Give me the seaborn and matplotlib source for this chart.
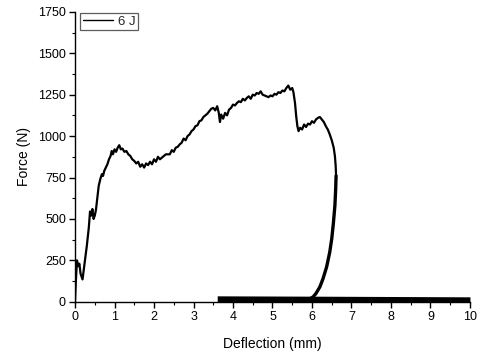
import matplotlib
matplotlib.use("Agg")
import matplotlib.pyplot as plt
from matplotlib.ticker import MultipleLocator
import seaborn as sns
import pandas as pd

# Loading branch (deflection mm, force N)
load_x = [0.00, 0.02, 0.05, 0.08, 0.11, 0.14, 0.19, 0.24, 0.30, 0.35, 0.38, 0.41, 0.44, 0.47, 0.50,
          0.53, 0.57, 0.60, 0.64, 0.68, 0.71, 0.74, 0.78, 0.82, 0.86, 0.90, 0.93, 0.96, 1.00, 1.04,
          1.08, 1.12, 1.16, 1.20, 1.25, 1.30, 1.35, 1.40, 1.45, 1.50, 1.55, 1.60, 1.65, 1.70, 1.75,
          1.80, 1.85, 1.90, 1.95, 2.00, 2.05, 2.10, 2.15, 2.20, 2.25, 2.30, 2.40, 2.45, 2.50, 2.55,
          2.60, 2.65, 2.70, 2.75, 2.80, 2.85, 2.90, 2.95, 3.00, 3.05, 3.10, 3.15, 3.20, 3.25, 3.30,
          3.35, 3.40, 3.45, 3.50, 3.55, 3.60, 3.64, 3.67, 3.70, 3.75, 3.80, 3.85, 3.90, 3.95, 4.00,
          4.05, 4.10, 4.15, 4.20, 4.25, 4.30, 4.35, 4.40, 4.45, 4.50, 4.55, 4.60, 4.65, 4.70, 4.75,
          4.80, 4.85, 4.90, 4.95, 5.00, 5.05, 5.10, 5.15, 5.20, 5.25, 5.30, 5.35, 5.40, 5.45, 5.50,
          5.53, 5.57, 5.60, 5.63, 5.66, 5.70, 5.75, 5.80, 5.85, 5.90, 5.95, 6.00, 6.05, 6.10, 6.15,
          6.20, 6.25, 6.30, 6.35, 6.40, 6.45, 6.50, 6.55, 6.58, 6.60, 6.61]
load_y = [0, 120, 250, 215, 230, 170, 135, 230, 340, 450, 545, 520, 560, 500, 520,
          555, 640, 700, 740, 770, 760, 790, 810, 830, 860, 880, 910, 890, 920, 905,
          930, 945, 920, 925, 905, 910, 890, 880, 860, 850, 835, 845, 815, 830, 810,
          835, 825, 845, 830, 860, 845, 875, 860, 870, 880, 890, 890, 915, 905, 930,
          935, 950, 960, 985, 975, 1000, 1010, 1030, 1040, 1060, 1065, 1090, 1095, 1115, 1125,
          1135, 1150, 1165, 1170, 1155, 1180, 1140, 1085, 1130, 1105, 1140, 1125, 1160, 1170, 1190,
          1185, 1200, 1210, 1205, 1225, 1215, 1230, 1240, 1225, 1250, 1245, 1260, 1255, 1270, 1250,
          1245, 1240, 1235, 1245, 1240, 1255, 1250, 1265, 1260, 1275, 1270, 1290, 1305, 1280, 1290,
          1265, 1200, 1120, 1060, 1030, 1050, 1040, 1070, 1055, 1075, 1070, 1090, 1080, 1100, 1110,
          1115, 1100, 1085, 1060, 1040, 1010, 975, 930, 880, 820, 760]

# Unloading branch
unload_x = [6.61, 6.60, 6.58, 6.54, 6.50, 6.45, 6.37, 6.28, 6.20, 6.10, 6.03, 5.95, 5.85]
unload_y = [760, 680, 580, 470, 380, 300, 210, 140, 90, 50, 30, 18, 12]

# Post-impact noise band near zero force
band_x = [3.60, 6.00, 10.00]
band_top = [36, 34, 30]
band_bottom = [0, 0, 0]

legend_label = "6 J"

sns.set_theme(style="white")
plt.rcParams["font.family"] = ["Liberation Sans", "DejaVu Sans"]

fig = plt.figure(figsize=(4.84, 3.58), dpi=100)
ax = fig.add_axes([0.155, 0.157, 0.816, 0.81])

df_load = pd.DataFrame({"x": load_x, "y": load_y})
df_unload = pd.DataFrame({"x": unload_x, "y": unload_y})

sns.lineplot(data=df_load, x="x", y="y", sort=False, estimator=None, ax=ax,
             color="black", linewidth=1.6, label=legend_label)
sns.lineplot(data=df_unload, x="x", y="y", sort=False, estimator=None, ax=ax,
             color="black", linewidth=2.4, legend=False)
ax.fill_between(band_x, band_bottom, band_top, color="black", linewidth=0, clip_on=False)

ax.set_xlim(0, 10)
ax.set_ylim(0, 1750)
ax.xaxis.set_major_locator(MultipleLocator(1))
ax.xaxis.set_minor_locator(MultipleLocator(0.5))
ax.yaxis.set_major_locator(MultipleLocator(250))
ax.yaxis.set_minor_locator(MultipleLocator(125))

for s in ["top", "right"]:
    ax.spines[s].set_visible(False)
for s in ["left", "bottom"]:
    ax.spines[s].set_color("black")
    ax.spines[s].set_linewidth(1.0)

ax.tick_params(axis="both", which="major", direction="out", length=4, width=1,
               color="black", labelsize=9, labelcolor="black", pad=2.5,
               bottom=True, left=True)
ax.tick_params(axis="both", which="minor", direction="out", length=2.5, width=0.8,
               color="black", bottom=True, left=True)

ax.set_xlabel("Deflection (mm)", fontsize=10, color="black", labelpad=10)
ax.set_ylabel("Force (N)", fontsize=10, color="black", labelpad=5)

leg = ax.legend(loc="upper left", bbox_to_anchor=(0.013, 0.997), fontsize=9.5,
                frameon=True, fancybox=False, borderpad=0.2, handlelength=2.3,
                handletextpad=0.35, borderaxespad=0)
leg.get_frame().set_edgecolor("#333333")
leg.get_frame().set_linewidth(0.9)
for line in leg.get_lines():
    line.set_linewidth(1.0)

fig.savefig("out.png", dpi=100, facecolor="white")
